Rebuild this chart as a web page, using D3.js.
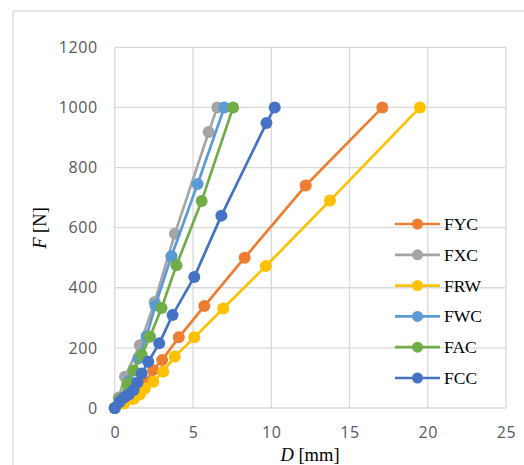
<!DOCTYPE html>
<html><head><meta charset="utf-8">
<script src="https://cdn.jsdelivr.net/npm/d3@7"></script>
<style>body{margin:0;background:#fff;} svg{display:block;}</style>
</head><body>
<svg id="c" width="524" height="465"></svg>
<script>
const seriesNames = ["FYC","FXC","FRW","FWC","FAC","FCC"];
const seriesColors = ["#ED7D31","#A5A5A5","#FFC000","#5B9BD5","#70AD47","#4472C4"];
const FYC_D = [0, 0.5, 1.0, 1.5, 1.95, 2.45, 3.03, 4.09, 5.72, 8.3, 12.2, 17.1];
const FYC_F = [0, 20, 40, 60, 85, 126, 160, 235, 339, 500, 740, 1000];
const FXC_D = [0, 0.25, 0.65, 1.6, 2.55, 3.84, 6.0, 6.55];
const FXC_F = [0, 35, 104, 209, 353, 580, 918, 1000];
const FRW_D = [0, 0.6, 1.2, 1.6, 1.92, 2.46, 3.1, 3.83, 5.08, 6.93, 9.65, 13.75, 19.5];
const FRW_F = [0, 15, 30, 45, 65, 87, 121, 171, 235, 331, 472, 690, 1000];
const FWC_D = [0, 0.4, 0.9, 1.5, 2.03, 2.6, 3.62, 5.29, 7.0];
const FWC_F = [0, 30, 90, 165, 239, 342, 505, 745, 1000];
const FAC_D = [0, 0.3, 0.8, 1.2, 1.72, 2.25, 2.99, 3.94, 5.55, 7.56];
const FAC_F = [0, 30, 80, 125, 176, 237, 333, 475, 689, 1000];
const FCC_D = [0, 0.3, 0.6, 0.9, 1.2, 1.45, 1.72, 2.14, 2.84, 3.69, 5.08, 6.81, 9.69, 10.22];
const FCC_F = [0, 20, 35, 45, 60, 85, 115, 154, 215, 309, 436, 640, 948, 1000];
const xTicks = [0, 5, 10, 15, 20, 25];
const yTicks = [0, 200, 400, 600, 800, 1000, 1200];

const seriesD = [FYC_D, FXC_D, FRW_D, FWC_D, FAC_D, FCC_D];
const seriesF = [FYC_F, FXC_F, FRW_F, FWC_F, FAC_F, FCC_F];

const svg = d3.select("#c");
const x = d3.scaleLinear().domain([0, 25]).range([114.8, 506]);
const y = d3.scaleLinear().domain([0, 1200]).range([408, 47.3]);

// chart border
svg.append("rect").attr("x", 13).attr("y", 11).attr("width", 700).attr("height", 700)
  .attr("fill", "none").attr("stroke", "#D9D9D9").attr("stroke-width", 1.3);

// gridlines
const grid = svg.append("g").attr("stroke", "#D9D9D9").attr("stroke-width", 1.3);
grid.selectAll("line.h").data(yTicks).join("line")
  .attr("x1", x(0)).attr("x2", x(25)).attr("y1", d => y(d)).attr("y2", d => y(d));
grid.selectAll("line.v").data(xTicks).join("line")
  .attr("y1", y(0)).attr("y2", y(1200)).attr("x1", d => x(d)).attr("x2", d => x(d));

// axes labels using d3 axes
const tickFont = "'Open Sans', sans-serif";
const fmt = d3.format("d");
const xAxis = svg.append("g").attr("transform", `translate(0,${y(0)})`)
  .call(d3.axisBottom(x).tickValues(xTicks).tickFormat(fmt).tickSize(0).tickPadding(19));
const yAxis = svg.append("g").attr("transform", `translate(${x(0)},0)`)
  .call(d3.axisLeft(y).tickValues(yTicks).tickFormat(fmt).tickSize(0).tickPadding(17));
[xAxis, yAxis].forEach(a => {
  a.select(".domain").remove();
  a.selectAll("text").attr("fill", "#595959").style("font-family", tickFont)
    .style("font-size", "16px").style("letter-spacing", "0.6px");
});

// axis titles
const serif = "'Liberation Serif', 'Times New Roman', serif";
const xt = svg.append("text").attr("x", 310).attr("y", 461).attr("text-anchor", "middle")
  .style("font-family", serif).style("font-size", "18.5px").attr("fill", "#000");
xt.append("tspan").style("font-style", "italic").text("D");
xt.append("tspan").text(" [mm]");
const yt = svg.append("text").attr("transform", "translate(46,228) rotate(-90)").attr("text-anchor", "middle")
  .style("font-family", serif).style("font-size", "18.5px").attr("fill", "#000");
yt.append("tspan").style("font-style", "italic").text("F");
yt.append("tspan").text(" [N]");

// series
const line = d3.line().x(d => x(d[0])).y(d => y(d[1]));
seriesNames.forEach((name, i) => {
  const pts = seriesD[i].map((d, j) => [d, seriesF[i][j]]);
  const g = svg.append("g");
  g.append("path").datum(pts).attr("d", line).attr("fill", "none")
    .attr("stroke", seriesColors[i]).attr("stroke-width", 2.7).attr("stroke-linejoin", "round");
  g.selectAll("circle").data(pts).join("circle")
    .attr("cx", d => x(d[0])).attr("cy", d => y(d[1])).attr("r", 6)
    .attr("fill", seriesColors[i]);
});

// legend
const leg = svg.append("g");
seriesNames.forEach((name, i) => {
  const ly = 224 + i * 30.8;
  leg.append("line").attr("x1", 395).attr("x2", 440).attr("y1", ly).attr("y2", ly)
    .attr("stroke", seriesColors[i]).attr("stroke-width", 2.7);
  leg.append("circle").attr("cx", 417.5).attr("cy", ly).attr("r", 5.5).attr("fill", seriesColors[i]);
  leg.append("text").attr("x", 444).attr("y", ly + 6).text(name)
    .style("font-family", serif).style("font-size", "17.5px").attr("fill", "#000");
});
</script>
</body></html>
